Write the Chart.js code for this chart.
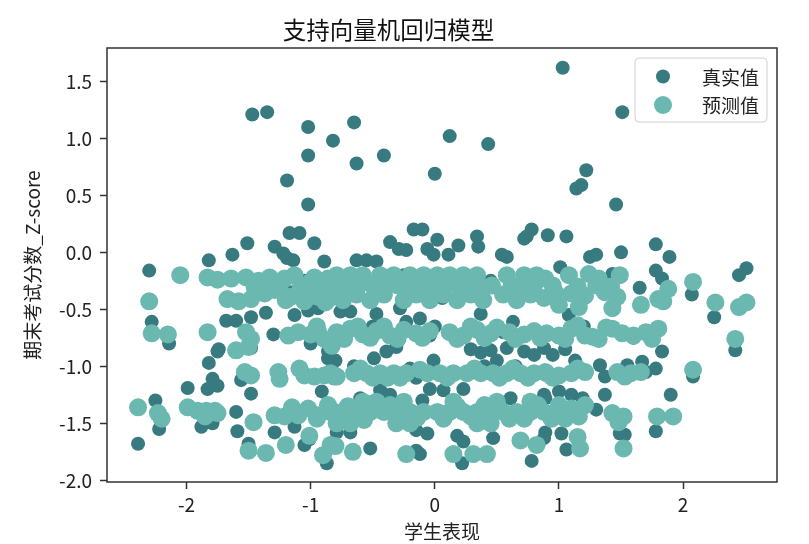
<!DOCTYPE html>
<html><head><meta charset="utf-8">
<script src="https://cdn.jsdelivr.net/npm/chart.js@4.4.1/dist/chart.umd.min.js"></script>
<style>html,body{margin:0;padding:0;background:#fff;}canvas{display:block;}</style>
</head><body>
<canvas id="c" width="809" height="544"></canvas>
<script>
const titleText = '支持向量机回归模型';
const xLabel = '学生表现';
const yLabel = '期末考试分数_Z-score';
const seriesNames = ['真实值', '预测值'];
const xTicks = [-2, -1, 0, 1, 2];
const yTicks = [1.5, 1.0, 0.5, 0.0, -0.5, -1.0, -1.5, -2.0];

// 真实值 (x, y)
const truePoints = [
[-1.47,1.21],[-1.35,1.23],[-1.02,1.10],[-0.82,0.98],[-1.02,0.85],[-1.19,0.63],[-1.02,0.42],[-1.17,0.17],[-1.09,0.17],[-1.51,0.08],[-0.97,0.08],[-1.63,-0.02],[-1.29,0.05],[-1.82,-0.07],[-1.22,-0.01],[-1.19,-0.05],[-1.14,-0.07],[-0.89,-0.08],[-2.30,-0.16],
[1.03,1.62],[1.51,1.23],[-0.65,1.14],[0.12,1.02],[0.43,0.95],[-0.41,0.85],[-0.63,0.78],[0.00,0.69],[1.22,0.72],[1.14,0.56],[1.18,0.59],[1.46,0.42],[0.91,0.15],[1.06,0.14],[0.74,0.14],[0.78,0.20],[0.72,0.12],[1.78,0.07],[1.89,-0.04],[1.50,0.00],[1.25,-0.04],[1.30,-0.02],[1.78,-0.16],[1.83,-0.23],[1.65,-0.31],[2.07,-0.37],[2.25,-0.57],[2.42,-0.86],[2.45,-0.20],[2.51,-0.14],[1.90,-1.25],[1.78,-1.57],[1.49,-1.59],[1.53,-1.60],[1.37,-1.25],[0.78,-1.83],[0.22,-1.85],[-0.87,-1.85],[-0.15,-1.74],[-0.52,-1.72],[-2.39,-1.68],[-1.59,-1.57],[-1.99,-1.19],[-1.82,-0.97],[-1.74,-0.85],[-2.28,-0.61],[-2.14,-0.80],[-2.25,-1.30],[-2.22,-1.55],[-1.01,-1.64],[-1.50,-1.68],[1.06,-1.73],
[-1.68,-0.60],[-1.60,-0.60],[-1.48,-0.57],[-1.36,-0.53],[-1.13,-0.55],[-1.02,-0.51],[-0.94,-0.49],[-1.75,-0.87],[-1.48,-0.84],[-0.86,-0.87],[-1.05,-0.25],[-0.99,-0.30],[-1.15,-0.35],
[-1.79,-1.11],[-1.83,-1.20],[-1.75,-1.17],[-1.88,-1.53],[-1.79,-1.50],[-1.48,-1.24],[-1.56,-1.12],[-1.29,-1.58],[-1.13,-1.53],[-1.05,-1.69],[-0.91,-1.22],[-0.86,-0.93],[-0.83,-1.03],
[-0.17,0.20],[-0.10,0.20],[-0.36,0.09],[-0.29,0.03],[-0.23,0.02],[-0.06,0.03],[0.02,0.11],[-0.01,-0.02],[0.19,0.06],[0.34,0.14],[0.35,0.05],[0.11,-0.02],[0.54,-0.02],[0.58,-0.04],[-0.63,-0.07],[-0.55,-0.07],[-0.47,-0.08],[-0.58,-0.26],[-0.76,-0.52],[-0.68,-0.52],[-0.47,-0.54],[-0.28,-0.49],[-0.12,-0.58],[-0.23,-0.61],[0.37,-0.54],[0.63,-0.61],[-0.04,-0.73],[-0.25,-0.20],[-0.05,-0.23],[0.06,-0.40],[-0.40,-0.30],[0.20,-0.30],[0.45,-0.25],
[-0.49,-0.93],[-0.39,-0.87],[-0.31,-0.83],[-0.20,-1.02],[-0.01,-0.95],[0.29,-0.85],[0.37,-0.88],[0.45,-0.86],[0.58,-0.84],[0.50,-0.95],[0.72,-0.87],[0.80,-0.90],[0.88,-0.84],[-0.04,-1.20],[0.07,-1.21],[0.23,-1.20],[-0.44,-1.21],[-0.36,-1.25],[-0.60,-1.28],[-0.63,-1.37],[0.50,-1.31],[0.61,-1.28],[0.88,-1.25],[-0.79,-1.58],[-0.68,-1.58],[-0.15,-1.56],[-0.06,-1.59],[0.18,-1.61],[0.23,-1.66],[0.47,-1.63],[0.88,-1.63],[-0.12,-1.77],
[1.01,-0.13],[1.43,-0.19],[1.83,-0.87],[1.08,-0.55],
[1.33,-0.99],[1.37,-1.09],[1.55,-0.99],[1.67,-0.96],[1.78,-1.02],[1.70,-1.05],[2.08,-1.09],[0.89,-1.28],[1.00,-1.22],[1.10,-1.25],[1.19,-1.28],[1.02,-1.59],[0.89,-1.58],
[1.05,-0.85],[1.13,-0.95],[0.95,-0.90],[-0.93,-0.75],[-0.80,-0.95],[-0.30,-1.35],[0.30,-1.45],[-0.70,-1.45],[0.70,-1.42],[1.30,-1.38],[-1.60,-1.40],[-0.10,-1.30],[-0.15,-1.10],[0.40,-1.00],[0.65,-1.00],[-0.65,-1.00],[-0.50,-0.65],[0.00,-0.65],[0.55,-0.70],[1.20,-0.65],[1.60,-0.75],[-1.30,-0.72],[-1.00,-0.80]
];

// 预测值 (x, y)
const predPoints = [
[-2.05,-0.20],[-2.30,-0.43],[-2.28,-0.71],[-2.15,-0.72],[-1.83,-0.70],[-1.83,-0.22],[-1.75,-0.24],[-1.64,-0.23],[-1.52,-0.22],[-1.67,-0.41],[-1.58,-0.43],[-1.48,-0.41],[-1.37,-0.36],[-1.29,-0.33],[-1.21,-0.23],[-1.13,-0.20],[-1.05,-0.35],[-0.97,-0.22],[-0.94,-0.39],[-0.86,-0.23],[-0.82,-0.39],[-1.16,-0.39],[-1.52,-0.70],[-1.48,-0.76],[-1.50,-0.83],[-1.60,-0.86],[-1.18,-0.73],[-1.10,-0.70],[-0.94,-0.70],[-0.89,-0.76],[-1.42,-0.25],[-1.33,-0.22],[-1.00,-0.26],[-1.20,-0.42],[-1.05,-0.43],[-0.88,-0.44],[-1.00,-0.72],[-0.83,-0.82],
[-2.39,-1.36],[-2.23,-1.41],[-2.20,-1.46],[-1.99,-1.36],[-1.91,-1.39],[-1.84,-1.39],[-1.77,-1.39],[-1.75,-1.41],[-1.85,-1.44],[-1.53,-1.05],[-1.48,-1.08],[-1.26,-1.05],[-1.25,-1.11],[-1.09,-1.02],[-0.97,-1.09],[-0.89,-1.08],[-0.81,-1.09],[-1.46,-1.49],[-1.29,-1.43],[-1.21,-1.44],[-1.10,-1.43],[-1.02,-1.37],[-0.94,-1.43],[-0.86,-1.34],[-0.81,-1.40],[-1.50,-1.74],[-1.36,-1.76],[-1.20,-1.69],[-1.01,-1.61],[-0.90,-1.78],[-0.84,-1.69],
[-0.79,-0.20],[-0.68,-0.20],[-0.58,-0.20],[-0.44,-0.20],[-0.33,-0.20],[-0.20,-0.20],[-0.09,-0.20],[0.02,-0.20],[0.12,-0.20],[0.23,-0.20],[0.34,-0.20],[0.58,-0.20],[0.72,-0.20],[0.82,-0.20],
[-0.84,-0.37],[-0.74,-0.42],[-0.63,-0.37],[-0.52,-0.42],[-0.41,-0.37],[-0.25,-0.42],[-0.15,-0.37],[-0.04,-0.42],[0.07,-0.37],[0.18,-0.42],[0.29,-0.37],[0.39,-0.42],[0.55,-0.37],[0.66,-0.42],[0.77,-0.37],[0.88,-0.40],
[-0.70,-0.29],[-0.50,-0.29],[-0.30,-0.29],[-0.10,-0.29],[0.10,-0.29],[0.30,-0.29],[0.46,-0.29],[0.62,-0.29],
[-1.45,-0.31],[-1.25,-0.29],[-1.08,-0.30],[-0.92,-0.30],[-0.78,-0.31],[-0.62,-0.30],[-0.40,-0.31],[-0.20,-0.30],[0.00,-0.31],[0.20,-0.30],[0.40,-0.31],[0.70,-0.30],[0.80,-0.29],[0.95,-0.29],[1.15,-0.30],[1.30,-0.29],[1.42,-0.30],
[-0.79,-0.70],[-0.68,-0.67],[-0.58,-0.72],[-0.47,-0.69],[-0.36,-0.73],[-0.25,-0.68],[-0.15,-0.71],[-0.04,-0.69],[0.12,-0.70],[0.23,-0.73],[0.34,-0.68],[0.45,-0.71],[0.60,-0.70],[0.72,-0.72],[0.80,-0.69],[0.90,-0.71],
[-0.73,-0.76],[-0.52,-0.75],[-0.30,-0.76],[-0.10,-0.75],[0.18,-0.76],[0.40,-0.75],[0.65,-0.76],[0.85,-0.75],[1.05,-0.76],[1.27,-0.74],[1.60,-0.73],[1.70,-0.70],[-0.62,-0.65],[-0.41,-0.65],[0.29,-0.65],[0.50,-0.66],[1.15,-0.64],[1.38,-0.66],[-0.95,-0.65],
[-0.84,-1.06],[-0.79,-1.09],[-0.65,-1.06],[-0.55,-1.06],[-0.44,-1.06],[-0.33,-1.06],[-0.23,-1.06],[-0.06,-1.06],[0.04,-1.06],[0.15,-1.06],[0.26,-1.06],[0.37,-1.06],[0.47,-1.06],[0.58,-1.06],[0.69,-1.06],[0.80,-1.06],[0.90,-1.06],[-0.50,-1.10],[-0.38,-1.10],
[-0.60,-1.02],[-0.28,-1.10],[-0.12,-1.03],[0.10,-1.10],[0.32,-1.02],[0.52,-1.10],[0.63,-1.02],[0.75,-1.10],[0.95,-1.10],[1.15,-1.02],[1.58,-1.06],[-1.05,-1.08],
[-0.84,-1.40],[-0.74,-1.40],[-0.63,-1.40],[-0.52,-1.40],[-0.41,-1.40],[-0.31,-1.40],[-0.20,-1.40],[-0.09,-1.40],[0.02,-1.40],[0.12,-1.40],[0.23,-1.40],[0.34,-1.40],[0.45,-1.40],[0.55,-1.40],[0.66,-1.40],[0.77,-1.40],[0.88,-1.40],
[-0.58,-1.31],[-0.47,-1.31],[-0.25,-1.31],[0.15,-1.31],[0.50,-1.31],[0.77,-1.31],[-0.79,-1.50],[-0.68,-1.50],[-0.31,-1.50],[-0.20,-1.50],[0.34,-1.50],[0.45,-1.50],
[-0.95,-1.46],[-0.70,-1.35],[-0.57,-1.47],[-0.36,-1.34],[-0.14,-1.45],[0.07,-1.46],[0.18,-1.35],[0.29,-1.44],[0.40,-1.34],[0.60,-1.46],[0.72,-1.46],[0.83,-1.34],[0.98,-1.40],[-1.15,-1.36],
[-0.80,-1.70],[-0.66,-1.75],[-0.23,-1.77],[0.15,-1.77],[0.31,-1.77],[0.42,-1.77],[0.69,-1.65],[0.82,-1.69],
[1.49,-0.20],[0.89,-0.23],[1.08,-0.20],[1.24,-0.19],[1.32,-0.23],[0.97,-0.35],[1.10,-0.36],[1.21,-0.38],[1.37,-0.35],[1.47,-0.39],[1.43,-0.49],[1.00,-0.46],[1.16,-0.48],[1.66,-0.46],[1.80,-0.41],[1.88,-0.32],[1.84,-0.43],[2.08,-0.26],[2.26,-0.44],[2.45,-0.48],[2.51,-0.44],[2.42,-0.76],[1.00,-0.73],[1.10,-0.67],[1.21,-0.73],[1.32,-0.76],[1.43,-0.67],[1.51,-0.71],[1.75,-0.76],[1.80,-0.67],
[0.89,-1.05],[1.00,-1.08],[1.10,-1.06],[1.21,-1.05],[1.47,-1.05],[1.53,-1.09],[1.66,-1.05],[2.08,-1.03],[1.00,-1.34],[1.10,-1.37],[1.21,-1.34],[1.16,-1.44],[0.94,-1.46],[1.05,-1.46],[1.43,-1.41],[1.52,-1.44],[1.48,-1.49],[1.79,-1.44],[1.92,-1.44],[1.17,-1.72],[1.52,-1.72],[1.15,-1.62]
];

const darkColor = 'rgb(55,123,128)';
const lightColor = 'rgb(106,184,176)';
const FONT = '"Noto Sans CJK SC", "DejaVu Sans", sans-serif';
Chart.defaults.font.family = FONT;
Chart.defaults.color = '#222';

const frameLegend = {
  id: 'frameLegend',
  afterDatasetsDraw(chart) {
    const { ctx, chartArea: a } = chart;
    ctx.save();
    ctx.strokeStyle = '#333';
    ctx.lineWidth = 1.5;
    ctx.strokeRect(a.left, a.top, a.right - a.left, a.bottom - a.top);
    const bw = 132, bh = 64;
    const bx = a.right - 10 - bw, by = a.top + 10;
    const r = 4;
    ctx.beginPath();
    ctx.moveTo(bx + r, by);
    ctx.lineTo(bx + bw - r, by); ctx.arcTo(bx + bw, by, bx + bw, by + r, r);
    ctx.lineTo(bx + bw, by + bh - r); ctx.arcTo(bx + bw, by + bh, bx + bw - r, by + bh, r);
    ctx.lineTo(bx + r, by + bh); ctx.arcTo(bx, by + bh, bx, by + bh - r, r);
    ctx.lineTo(bx, by + r); ctx.arcTo(bx, by, bx + r, by, r);
    ctx.closePath();
    ctx.fillStyle = 'rgba(255,255,255,0.8)';
    ctx.fill();
    ctx.strokeStyle = '#d0d0d0';
    ctx.lineWidth = 1;
    ctx.stroke();
    const rows = [
      { name: seriesNames[0], color: darkColor, r: 7, y: by + 18.5 },
      { name: seriesNames[1], color: lightColor, r: 9, y: by + 47 }
    ];
    ctx.font = '19px ' + FONT;
    ctx.textBaseline = 'middle';
    ctx.textAlign = 'left';
    rows.forEach(o => {
      ctx.beginPath();
      ctx.arc(bx + 28, o.y, o.r, 0, Math.PI * 2);
      ctx.fillStyle = o.color;
      ctx.fill();
      ctx.fillStyle = '#222';
      ctx.fillText(o.name, bx + 67, o.y + 1);
    });
    ctx.restore();
  }
};

new Chart(document.getElementById('c'), {
  type: 'scatter',
  data: {
    datasets: [
      { label: seriesNames[0], data: truePoints.map(p => ({ x: p[0], y: p[1] })), backgroundColor: darkColor, pointRadius: 7, pointHoverRadius: 7, pointBorderWidth: 0, order: 1 },
      { label: seriesNames[1], data: predPoints.map(p => ({ x: p[0], y: p[1] })), backgroundColor: lightColor, pointRadius: 9, pointHoverRadius: 9, pointBorderWidth: 0, order: 0 }
    ]
  },
  options: {
    responsive: false,
    animation: false,
    devicePixelRatio: 1,
    events: [],
    layout: { padding: { left: 0, right: 32, top: 0, bottom: 0 } },
    plugins: {
      legend: { display: false },
      tooltip: { enabled: false },
      title: { display: true, text: titleText, color: '#111', font: { size: 23.5, weight: 'normal', lineHeight: 1.2 }, padding: { top: 15.5, bottom: 4.3 } }
    },
    scales: {
      x: {
        type: 'linear', min: -2.64, max: 2.756,
        afterBuildTicks: s => { s.ticks = xTicks.map(v => ({ value: v })); },
        afterFit: s => { s.height = 62; },
        grid: { display: true, drawOnChartArea: false, drawTicks: true, tickLength: 7, tickColor: '#333', tickWidth: 1.5, color: '#333' },
        border: { display: false },
        ticks: { font: { size: 19 }, color: '#222', padding: 4, maxRotation: 0, callback: v => String(v) },
        title: { display: true, text: xLabel, color: '#222', font: { size: 19, lineHeight: 1.2 }, padding: { top: 0, bottom: 0.6 } }
      },
      y: {
        type: 'linear', min: -2.015, max: 1.793,
        afterBuildTicks: s => { s.ticks = yTicks.map(v => ({ value: v })); },
        afterFit: s => { s.width = 107; },
        grid: { display: true, drawOnChartArea: false, drawTicks: true, tickLength: 7, tickColor: '#333', tickWidth: 1.5, color: '#333' },
        border: { display: false },
        ticks: { font: { size: 19 }, color: '#222', padding: 8, callback: v => Number(v).toFixed(1) },
        title: { display: true, text: yLabel, color: '#222', font: { size: 19, lineHeight: 1.2 }, padding: { top: 21.5, bottom: 0 } }
      }
    }
  },
  plugins: [frameLegend]
});
</script>
</body></html>
